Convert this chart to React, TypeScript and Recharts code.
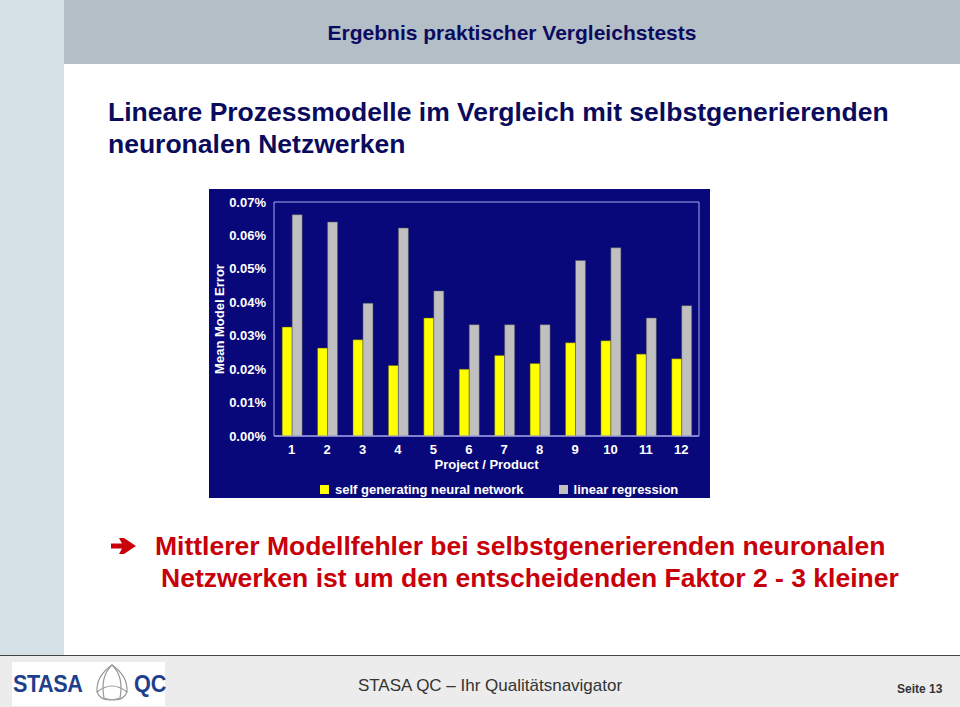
import { BarChart, Bar, XAxis, YAxis, Legend, ReferenceArea } from 'recharts';

// projects 1..12
const projects = ['1', '2', '3', '4', '5', '6', '7', '8', '9', '10', '11', '12'];
// mean model error in percent
const neuralNet = [0.0326, 0.0263, 0.0288, 0.0211, 0.0353, 0.02, 0.0241, 0.0217, 0.0279, 0.0285, 0.0245, 0.0231];
const linearReg = [0.0662, 0.064, 0.0397, 0.0622, 0.0434, 0.0333, 0.0333, 0.0333, 0.0525, 0.0563, 0.0353, 0.039];
const yTicks = [0, 0.01, 0.02, 0.03, 0.04, 0.05, 0.06, 0.07];
const seriesNames = ['self generating neural network', 'linear regression'];
const seriesColors = ['#ffff00', '#c0c0c0'];

const data = projects.map((p, i) => ({ project: p, sgnn: neuralNet[i], linreg: linearReg[i] }));

const FONT = 'Arial, "Liberation Sans", sans-serif';
const NAVY = '#0b0b5e';

const ChartLegend = () => (
    <div style={{ display: 'flex', paddingLeft: 111, paddingTop: 13, fontFamily: FONT, fontWeight: 'bold', fontSize: 13, lineHeight: '15px', color: '#fff' }}>
        {seriesNames.map((name, i) => (
            <div key={name} style={{ display: 'flex', alignItems: 'center', marginLeft: i ? 35 : 0 }}>
                <span style={{ width: 9, height: 9, background: seriesColors[i], display: 'inline-block', marginRight: 6 }} />
                <span>{name}</span>
            </div>
        ))}
    </div>
);

const YLabel = ({ viewBox }: any) => {
    const cx = 10;
    const cy = viewBox.y + viewBox.height / 2;
    return (
        <text x={cx} y={cy} transform={`rotate(-90 ${cx} ${cy})`} textAnchor="middle" dominantBaseline="central"
            fill="#fff" fontFamily={FONT} fontWeight="bold" fontSize={13}>
            Mean Model Error
        </text>
    );
};

const Arrow = () => (
    <svg width="25" height="16" style={{ position: 'absolute', left: 111, top: 538 }}>
        <path d="M0 5.5 H11 L8 0 H13 L25 8 L13 16 H8 L11 10.5 H0 Z" fill="#c8000a" />
    </svg>
);

const Logo = () => (
    <div style={{ position: 'absolute', left: 12, top: 662, width: 153, height: 44, background: '#fff', display: 'flex', alignItems: 'center' }}>
        <span style={{ fontFamily: FONT, fontWeight: 'bold', fontSize: 24, color: '#1f3f8c', marginLeft: 1, letterSpacing: -0.5, transform: 'scaleX(0.9)', transformOrigin: 'left' }}>STASA</span>
        <svg width="44" height="44" style={{ position: 'absolute', left: 78, top: 0 }}>
            <g fill="none" stroke="#999" strokeWidth="1.2">
                <path d="M22 3 Q34 14 30 36 Q12 42 7 30 Q6 14 22 3 Z" />
                <path d="M22 3 Q10 14 14 36 Q32 42 37 30 Q38 14 22 3 Z" />
                <path d="M7 30 Q22 18 37 30" />
            </g>
        </svg>
        <span style={{ position: 'absolute', left: 122, fontFamily: FONT, fontWeight: 'bold', fontSize: 24, color: '#1f3f8c', transform: 'scaleX(0.9)', transformOrigin: 'left' }}>QC</span>
    </div>
);

export default function App() {
    return (
        <div style={{ position: 'absolute', left: 0, top: 0, width: 960, height: 707, background: '#fff', overflow: 'hidden', fontFamily: FONT }}>
            {/* left strip */}
            <div style={{ position: 'absolute', left: 0, top: 0, width: 64, height: 655, background: '#d6e0e7' }} />
            {/* header band */}
            <div style={{ position: 'absolute', left: 64, top: 0, width: 896, height: 64, background: '#b3bec7' }} />
            <div style={{ position: 'absolute', left: 64, top: 21, width: 896, textAlign: 'center', fontSize: 21, fontWeight: 'bold', color: NAVY }}>
                Ergebnis praktischer Vergleichstests
            </div>
            <div style={{ position: 'absolute', left: 108, top: 96, fontSize: 26.5, fontWeight: 'bold', lineHeight: '32px', color: NAVY }}>
                Lineare Prozessmodelle im Vergleich mit selbstgenerierenden<br />neuronalen Netzwerken
            </div>

            <div style={{ position: 'absolute', left: 209, top: 189, width: 501, height: 309, background: '#08087a' }}>
                <BarChart width={501} height={309} data={data} margin={{ top: 13, right: 11, bottom: 3, left: 0 }}
                    barCategoryGap="23%" barGap={0}>
                    <ReferenceArea y1={0} y2={0.07} fill="none" stroke="#a9a9ee" strokeWidth={1} />
                    <XAxis dataKey="project" tickLine={false} axisLine={{ stroke: '#a9a9ee' }} tickSize={0} tickMargin={9} height={33}
                        tick={{ fill: '#fff', fontSize: 13, fontWeight: 'bold', fontFamily: FONT }}
                        label={{ value: 'Project / Product', position: 'insideBottom', offset: 0, fill: '#fff', fontSize: 13, fontWeight: 'bold', fontFamily: FONT }} />
                    <YAxis domain={[0, 0.07]} ticks={yTicks} interval={0} width={65} tickLine={false} axisLine={false} tickSize={0} tickMargin={8}
                        tickFormatter={(v: number) => `${v.toFixed(2)}%`}
                        tick={{ fill: '#fff', fontSize: 13, fontWeight: 'bold', fontFamily: FONT }}
                        label={<YLabel />} />
                    <Legend verticalAlign="bottom" height={26} content={<ChartLegend />} />
                    <Bar dataKey="sgnn" name={seriesNames[0]} fill={seriesColors[0]} stroke="#55551a" strokeWidth={0.5} isAnimationActive={false} />
                    <Bar dataKey="linreg" name={seriesNames[1]} fill={seriesColors[1]} stroke="#555" strokeWidth={0.5} isAnimationActive={false} />
                </BarChart>
            </div>

            <Arrow />
            <div style={{ position: 'absolute', left: 155, top: 530, fontSize: 26.5, fontWeight: 'bold', lineHeight: '32px', color: '#c8000a', whiteSpace: 'nowrap' }}>
                <div>Mittlerer Modellfehler bei selbstgenerierenden neuronalen</div>
                <div style={{ paddingLeft: 6 }}>Netzwerken ist um den entscheidenden Faktor 2 - 3 kleiner</div>
            </div>

            {/* footer */}
            <div style={{ position: 'absolute', left: 0, top: 655, width: 960, height: 52, background: '#ececec', borderTop: '1.5px solid #444' }} />
            <Logo />
            <div style={{ position: 'absolute', left: 0, top: 676, width: 980, textAlign: 'center', fontSize: 17, color: '#333' }}>
                STASA QC – Ihr Qualitätsnavigator
            </div>
            <div style={{ position: 'absolute', left: 897, top: 682, fontSize: 12, fontWeight: 'bold', color: '#333' }}>Seite 13</div>
        </div>
    );
}
